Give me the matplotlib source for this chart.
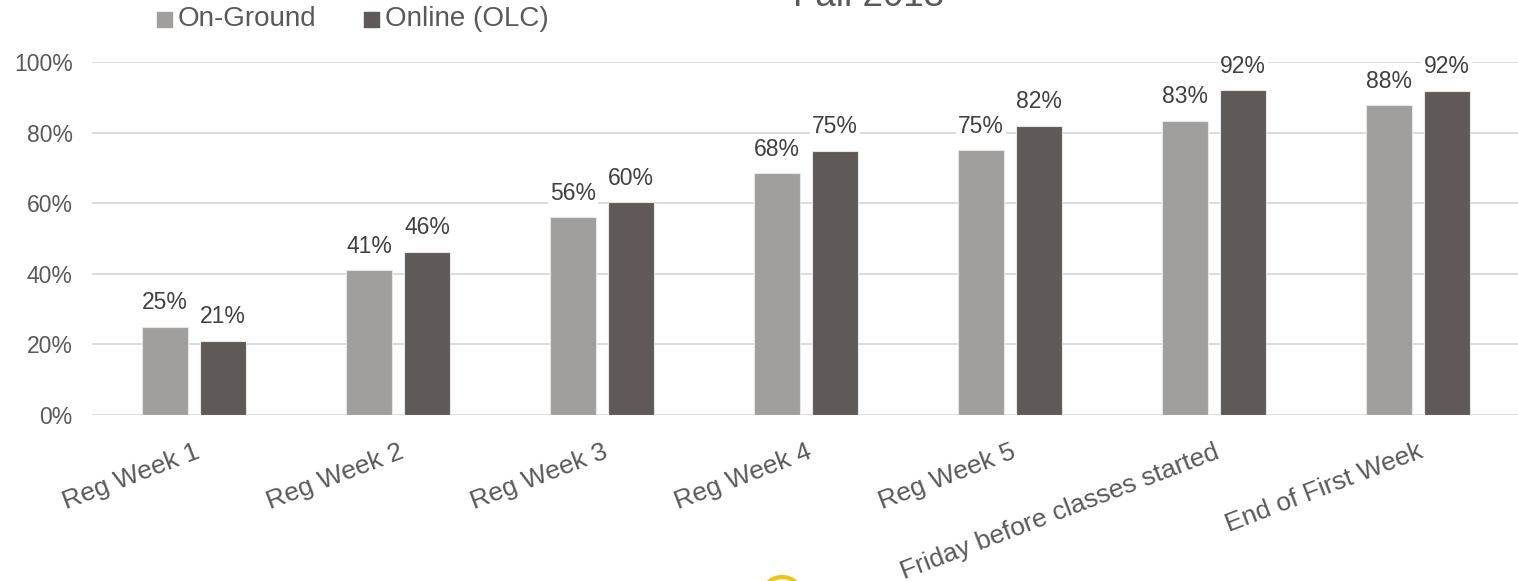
import numpy as np
import matplotlib
matplotlib.use("Agg")
import matplotlib.pyplot as plt
from matplotlib.patches import Ellipse, Rectangle

categories = ["Reg Week 1", "Reg Week 2", "Reg Week 3", "Reg Week 4", "Reg Week 5",
              "Friday before classes started", "End of First Week"]
on_ground = [25, 41, 56, 68.5, 75, 83.3, 87.8]
online    = [21, 46.2, 60.3, 74.9, 82, 92, 91.8]
on_ground_labels = ["25%", "41%", "56%", "68%", "75%", "83%", "88%"]
online_labels    = ["21%", "46%", "60%", "75%", "82%", "92%", "92%"]

C_GROUND = "#a09f9d"
C_ONLINE = "#5f5958"
TXT = "#595959"
W, H = 1518, 581

plt.rcParams["font.family"] = ["Liberation Sans", "DejaVu Sans"]

fig = plt.figure(figsize=(W / 100, H / 100), dpi=100)
ax = fig.add_axes([92 / W, 1 - 415 / H, 1428 / W, 353 / H])

x = np.arange(len(categories))
w = 0.225
off = 0.142
b1 = ax.bar(x - off, on_ground, w, color=C_GROUND, edgecolor="#e6e6e6", linewidth=0.8, zorder=3)
b2 = ax.bar(x + off, online, w, color=C_ONLINE, edgecolor="#e6e6e6", linewidth=0.8, zorder=3)

for bars, labs in ((b1, on_ground_labels), (b2, online_labels)):
    for r, lab in zip(bars, labs):
        ax.annotate(lab, (r.get_x() + r.get_width() / 2, r.get_height()),
                    xytext=(0, 9), textcoords="offset points", ha="center", va="bottom",
                    fontsize=16.5, color="#404040", zorder=4,
                    bbox=dict(boxstyle="square,pad=0.1", fc="white", ec="none"))

ax.set_xlim(-0.5, len(categories) - 0.5)
ax.set_ylim(0, 100)
ax.set_yticks(range(0, 101, 20))
ax.set_yticklabels([f"{v}%" for v in range(0, 101, 20)], fontsize=16.5, color=TXT)
ax.yaxis.grid(True, color="#d9d9d9", linewidth=1.3, zorder=0)
ax.tick_params(axis="both", length=0, pad=14)
for s in ax.spines.values():
    s.set_visible(False)
ax.set_xticks([])
for xi, cat in zip(x, categories):
    ax.text(xi, -7, cat, rotation=21, rotation_mode="anchor", ha="right", va="top",
            fontsize=19, color=TXT)

# legend
for lx, col, lab in ((157, C_GROUND, "On-Ground"), (364, C_ONLINE, "Online (OLC)")):
    fig.patches.append(Rectangle((lx / W, 1 - 27 / H), 15 / W, 15 / H,
                                 transform=fig.transFigure, color=col))
    fig.text((lx + 21) / W, 1 - 19 / H, lab, fontsize=20, color=TXT, va="center", ha="left")

fig.text(869 / W, 1 - 6 / H, "Fall 2018", fontsize=26.5, color=TXT, ha="center", va="baseline")

# yellow logo peeking in at the bottom
fig.patches.append(Ellipse((782 / W, 1 - 598 / H), 42 / W, 42 / H, transform=fig.transFigure,
                           fc="white", ec="#f5c400", lw=3))

fig.savefig("out.png", dpi=100)
